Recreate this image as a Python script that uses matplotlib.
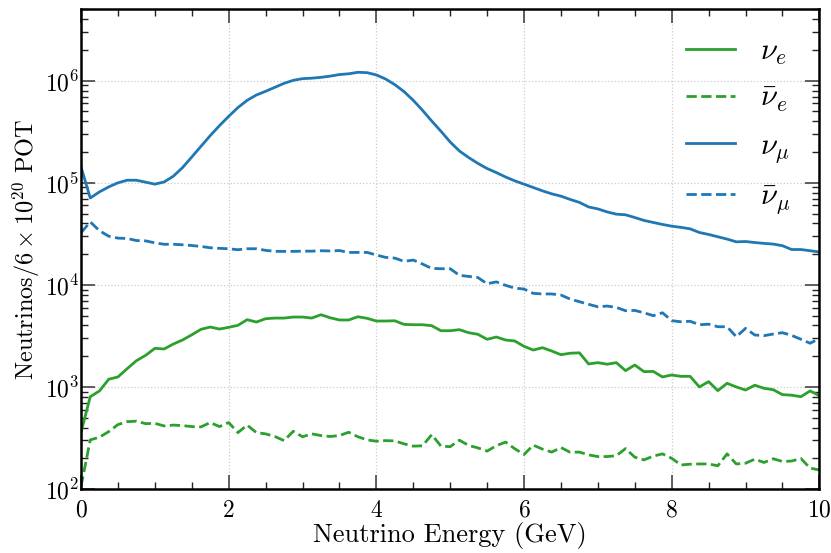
import numpy as np
import matplotlib
matplotlib.use("Agg")
import matplotlib.pyplot as plt
from matplotlib.ticker import MultipleLocator, LogLocator, NullFormatter

# energy bins (GeV), 0.125 GeV spacing
energy = np.arange(81) * 0.125

nu_e = [360, 803, 914, 1190, 1253, 1510, 1808, 2040, 2390, 2354,
        2633, 2884, 3243, 3670, 3865, 3690, 3838, 4017, 4560, 4325,
        4660, 4730, 4730, 4840, 4840, 4730, 5100, 4760, 4530, 4530,
        4875, 4700, 4425, 4425, 4450, 4100, 4070, 4070, 3980, 3555,
        3555, 3640, 3400, 3280, 2930, 3085, 2884, 2820, 2500, 2300,
        2425, 2250, 2070, 2140, 2160, 1680, 1730, 1670, 1730, 1445,
        1640, 1412, 1420, 1253, 1310, 1270, 1270, 1000, 1128, 920,
        1086, 1000, 933, 1040, 970, 940, 841, 830, 803, 914, 820]

nu_e_bar = [106, 303, 322, 365, 428, 457, 462, 437, 440, 415,
            423, 418, 409, 406, 448, 409, 448, 357, 423, 357,
            347, 327, 298, 368, 325, 347, 334, 327, 334, 360,
            325, 303, 294, 298, 296, 277, 263, 265, 341, 263,
            260, 301, 267, 253, 235, 266, 288, 248, 218, 269,
            246, 230, 255, 229, 230, 216, 208, 208, 212, 249,
            205, 193, 210, 221, 200, 172, 175, 176, 176, 169,
            221, 176, 179, 196, 182, 198, 186, 188, 199, 160, 154]

nu_mu = [1.43e5, 7.1e4, 8.15e4, 9.12e4, 1.0e5, 1.06e5, 1.06e5, 1.015e5, 9.7e4, 1.02e5,
         1.16e5, 1.41e5, 1.79e5, 2.28e5, 2.9e5, 3.63e5, 4.48e5, 5.46e5, 6.43e5, 7.25e5,
         7.88e5, 8.62e5, 9.43e5, 1.01e6, 1.048e6, 1.06e6, 1.08e6, 1.11e6, 1.15e6, 1.17e6,
         1.21e6, 1.2e6, 1.14e6, 1.04e6, 9.16e5, 7.82e5, 6.43e5, 5.13e5, 4.03e5, 3.2e5,
         2.51e5, 2.05e5, 1.77e5, 1.55e5, 1.38e5, 1.26e5, 1.14e5, 1.045e5, 9.7e4, 9.0e4,
         8.34e4, 7.8e4, 7.4e4, 6.87e4, 6.43e4, 5.8e4, 5.55e4, 5.19e4, 4.93e4, 4.86e4,
         4.57e4, 4.28e4, 4.09e4, 3.91e4, 3.76e4, 3.66e4, 3.54e4, 3.26e4, 3.12e4, 2.96e4,
         2.81e4, 2.64e4, 2.66e4, 2.6e4, 2.55e4, 2.51e4, 2.42e4, 2.22e4, 2.22e4, 2.16e4, 2.1e4]

nu_mu_bar = [3.24e4, 4.14e4, 3.39e4, 3.0e4, 2.87e4, 2.85e4, 2.72e4, 2.7e4, 2.58e4, 2.5e4,
             2.5e4, 2.47e4, 2.43e4, 2.38e4, 2.31e4, 2.28e4, 2.26e4, 2.21e4, 2.26e4, 2.26e4,
             2.18e4, 2.13e4, 2.13e4, 2.13e4, 2.14e4, 2.14e4, 2.16e4, 2.15e4, 2.17e4, 2.08e4,
             2.08e4, 2.08e4, 1.96e4, 1.86e4, 1.83e4, 1.7e4, 1.75e4, 1.6e4, 1.45e4, 1.44e4,
             1.44e4, 1.24e4, 1.21e4, 1.18e4, 1.025e4, 1.07e4, 9.9e3, 9.3e3, 9.1e3, 8.26e3,
             8.15e3, 8.15e3, 7.95e3, 7.26e3, 6.84e3, 6.45e3, 6.1e3, 6.2e3, 6.02e3, 5.58e3,
             5.62e3, 5.33e3, 4.99e3, 5.33e3, 4.46e3, 4.35e3, 4.4e3, 4.07e3, 4.12e3, 3.89e3,
             3.89e3, 3.1e3, 3.75e3, 3.23e3, 3.18e3, 3.3e3, 3.4e3, 3.2e3, 2.93e3, 2.68e3, 2.99e3]

green = "#2ca02c"
blue = "#1f77b4"
linewidth = 2

plt.rcParams["font.family"] = "serif"
plt.rcParams["font.serif"] = ["cmr10"]
plt.rcParams["mathtext.fontset"] = "cm"
plt.rcParams["axes.formatter.use_mathtext"] = True
plt.rcParams["axes.unicode_minus"] = False

fig = plt.figure(figsize=(8.31, 5.53), dpi=100)
fig.subplots_adjust(left=0.0975, right=0.986, bottom=0.1157, top=0.983)
ax = fig.add_subplot(111)

ax.plot(energy, nu_e, color=green, lw=linewidth, label=r"$\nu_e$")
ax.plot(energy, nu_e_bar, color=green, lw=linewidth, ls="--", label=r"$\bar{\nu}_e$")
ax.plot(energy, nu_mu, color=blue, lw=linewidth, label=r"$\nu_\mu$")
ax.plot(energy, nu_mu_bar, color=blue, lw=linewidth, ls="--", label=r"$\bar{\nu}_\mu$")

ax.set_yscale("log")
ax.set_xlim(0, 10)
ax.set_ylim(1e2, 5e6)

ax.xaxis.set_major_locator(MultipleLocator(2))
ax.xaxis.set_minor_locator(MultipleLocator(0.5))
ax.yaxis.set_major_locator(LogLocator(base=10, numticks=10))
ax.yaxis.set_minor_locator(LogLocator(base=10, subs=np.arange(2, 10), numticks=20))
ax.yaxis.set_minor_formatter(NullFormatter())

ax.tick_params(which="both", direction="in", top=True, right=True, labelsize=17)
ax.tick_params(which="major", length=10, width=1.2, color="#444444")
ax.tick_params(which="minor", length=5, width=1.0, color="#222222")
ax.tick_params(axis="x", which="major", pad=7.5)
ax.tick_params(axis="y", which="major", pad=1)
for s in ax.spines.values():
    s.set_linewidth(1.8)

ax.grid(which="major", linestyle=":", color="#cccccc", linewidth=0.9)

ax.set_xlabel("Neutrino Energy (GeV)", fontsize=19, labelpad=0)
ax.set_ylabel(r"Neutrinos/$6\times10^{20}$ POT", fontsize=17.5, labelpad=2)

ax.legend(loc="upper right", frameon=False, fontsize=22, handlelength=1.6,
          handletextpad=0.8, labelspacing=0.6, borderaxespad=0.55)

plt.savefig("out.png", dpi=100)
